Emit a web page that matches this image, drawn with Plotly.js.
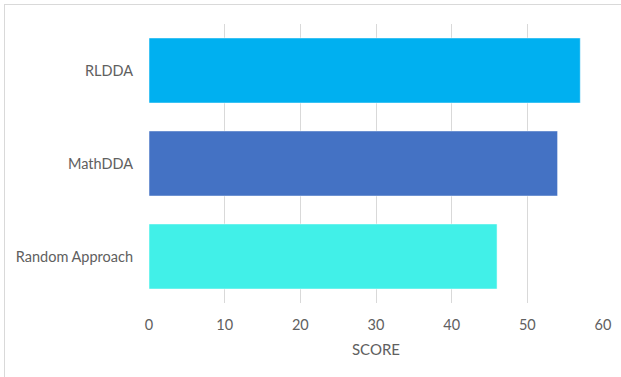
<!DOCTYPE html>
<html><head><meta charset="utf-8">
<script src="https://cdn.plot.ly/plotly-3.0.1.min.js"></script>
<style>
html,body{margin:0;padding:0;background:#fff;}
#frame{position:absolute;left:4px;top:4px;width:640px;height:400px;border:1px solid #d9d9d9;box-sizing:border-box;}
#chart{position:absolute;left:0;top:0;width:621px;height:377px;}
</style></head>
<body>
<div id="frame"></div>
<div id="chart"></div>
<script>
const categories = ['Random Approach', 'MathDDA', 'RLDDA'];
const scores = [46, 54, 57];
const barColors = ['#41F0E8', '#4472C4', '#00B0F0'];
const xTicks = [0, 10, 20, 30, 40, 50, 60];

const trace = {
  type: 'bar', orientation: 'h',
  y: categories, x: scores,
  marker: {color: barColors, line: {color: 'rgba(255,255,255,0.5)', width: 1}},
  hoverinfo: 'none'
};
const font = {family: 'Lato, "Open Sans", sans-serif', size: 14.5, color: '#606060'};
const layout = {
  width: 621, height: 377,
  margin: {l: 148.5, r: 18, t: 24, b: 74},
  paper_bgcolor: 'rgba(0,0,0,0)', plot_bgcolor: 'rgba(0,0,0,0)',
  bargap: 0.3,
  showlegend: false,
  font: font,
  xaxis: {
    range: [0, 60], tickvals: xTicks, ticktext: xTicks.map(String),
    showgrid: true, gridcolor: '#d9d9d9', gridwidth: 1,
    zeroline: false, showline: false, ticks: '',
    ticklabelstandoff: 11,
    title: {text: 'SCORE', font: {family: font.family, size: 15, color: '#606060'}, standoff: 12}
  },
  yaxis: {
    type: 'category', categoryorder: 'array', categoryarray: categories,
    showgrid: false, zeroline: false, showline: false, ticks: '',
    ticklabelstandoff: 15
  }
};
Plotly.newPlot('chart', [trace], layout, {staticPlot: true});
</script>
</body></html>
